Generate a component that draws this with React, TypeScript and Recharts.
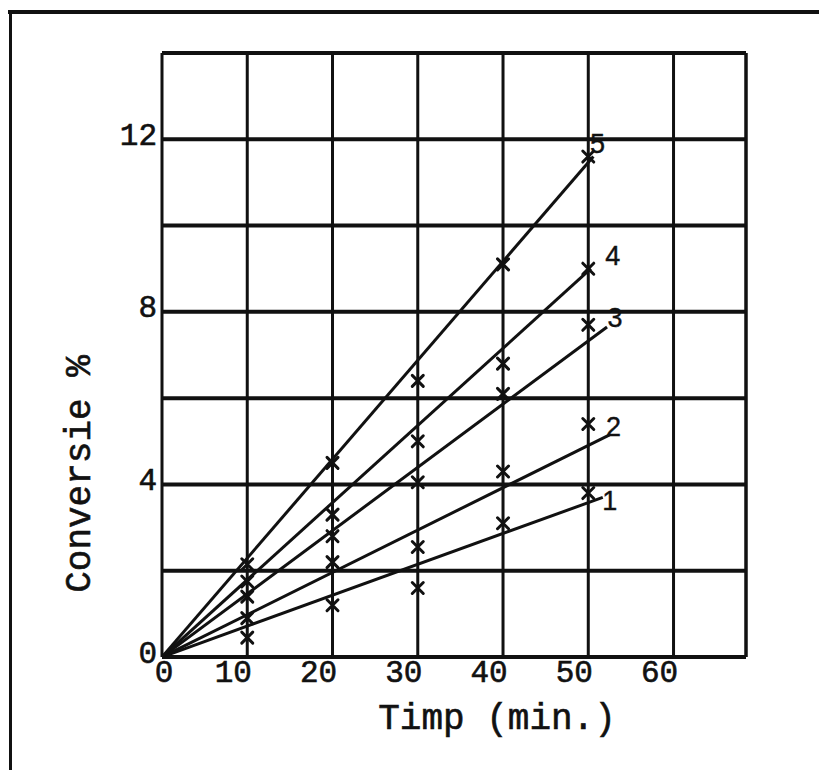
import React from 'react';
import {
  ComposedChart,
  Line,
  Scatter,
  XAxis,
  YAxis,
  CartesianGrid,
  ReferenceLine,
  Label,
} from 'recharts';

// Sampling times (min) and measured conversion (%) for curves 1–5
const sampleTimes = [10, 20, 30, 40, 50];
const conv1 = [0.45, 1.2, 1.6, 3.1, 3.8];
const conv2 = [0.9, 2.2, 2.55, 4.3, 5.4];
const conv3 = [1.4, 2.8, 4.05, 6.1, 7.7];
const conv4 = [1.75, 3.3, 5.0, 6.8, 9.0];
const conv5 = [2.15, 4.5, 6.4, 9.1, 11.6];

// Straight fitted lines start at the origin and end here
const fitEndTime = [51.7, 52.5, 52.2, 50.3, 50.6];
const fitEndConv = [3.7, 5.15, 7.65, 9.0, 11.6];
const curveNames = ['1', '2', '3', '4', '5'];

// Axes
const xTicks = [0, 10, 20, 30, 40, 50, 60];
const yTicks = [0, 2, 4, 6, 8, 10, 12, 14];
const yLabelled = [0, 4, 8, 12];
const xMax = 68.5;
const yMax = 14;

const measured = [conv1, conv2, conv3, conv4, conv5];

const FONT = '"Liberation Mono", "DejaVu Sans Mono", monospace';
const INK = '#111';
const TEXT_STROKE = 0.6;

// Where each curve number sits relative to the end of its line (px)
const nameOffsets: [number, number][] = [
  [7, 4],
  [4, -8],
  [8, -9],
  [22, -13],
  [4, -13],
];

const pointsData = measured.map((vals) =>
  sampleTimes.map((t, i) => ({ t, v: vals[i] }))
);
const fitData = fitEndTime.map((t, i) => [
  { t: 0, v: 0 },
  { t, v: fitEndConv[i] },
]);

const Cross = (props: any) => {
  const { cx, cy } = props;
  if (cx == null || cy == null) return <g />;
  const s = 5.5;
  return (
    <path
      d={`M${cx - s},${cy - s}L${cx + s},${cy + s}M${cx + s},${cy - s}L${cx - s},${cy + s}`}
      stroke={INK}
      strokeWidth={3}
      strokeLinecap="round"
      fill="none"
    />
  );
};

const XTick = (props: any) => {
  const { x, y, payload } = props;
  const dx = payload.value === 0 ? 2 : -14;
  return (
    <text
      x={x + dx}
      y={y + 25}
      textAnchor="middle"
      fontFamily={FONT}
      fontSize={31}
      fill={INK}
      stroke={INK}
      strokeWidth={TEXT_STROKE}
    >
      {payload.value}
    </text>
  );
};

const YTick = (props: any) => {
  const { x, y, payload } = props;
  if (!yLabelled.includes(payload.value)) return <g />;
  return (
    <text
      x={x - 5}
      y={y - 3}
      textAnchor="end"
      dominantBaseline="central"
      fontFamily={FONT}
      fontSize={31}
      fill={INK}
      stroke={INK}
      strokeWidth={TEXT_STROKE}
    >
      {payload.value}
    </text>
  );
};

const endLabel = (idx: number) => (props: any) => {
  const { x, y, index } = props;
  if (index !== 1 || x == null || y == null) return <g />;
  const [dx, dy] = nameOffsets[idx];
  return (
    <text
      x={x + dx}
      y={y + dy}
      textAnchor="middle"
      dominantBaseline="central"
      fontFamily='"Liberation Sans", "DejaVu Sans", sans-serif'
      fontSize={27}
      fill={INK}
      stroke={INK}
      strokeWidth={0.4}
    >
      {curveNames[idx]}
    </text>
  );
};

const XTitle = (props: any) => {
  const vb = props.viewBox || { x: 154, y: 649, width: 584, height: 40 };
  return (
    <text
      x={vb.x + 335}
      y={vb.y + 72}
      textAnchor="middle"
      fontFamily={FONT}
      fontSize={36}
      fill={INK}
      stroke={INK}
      strokeWidth={TEXT_STROKE}
    >
      Timp (min.)
    </text>
  );
};

const YTitle = (props: any) => {
  const vb = props.viewBox || { x: 74, y: 45, width: 80, height: 604 };
  const cx = vb.x - 2;
  const cy = vb.y + 421;
  return (
    <text
      x={cx}
      y={cy}
      transform={`rotate(-90 ${cx} ${cy})`}
      textAnchor="middle"
      dominantBaseline="central"
      fontFamily={FONT}
      fontSize={36}
      fill={INK}
      stroke={INK}
      strokeWidth={TEXT_STROKE}
    >
      Conversie %
    </text>
  );
};

export default function App() {
  return (
    <div
      style={{
        position: 'relative',
        width: 819,
        height: 770,
        marginBottom: -8,
        background: '#fff',
      }}
    >
      <div style={{ position: 'absolute', left: 0, top: 2, width: 819, height: 4, background: INK }} />
      <div style={{ position: 'absolute', left: 1, top: 2, width: 3, height: 766, background: INK }} />
      <div style={{ position: 'absolute', left: 0, top: 764, width: 819, height: 4, background: INK }} />
      <div style={{ position: 'absolute', left: 0, top: 0 }}>
        <ComposedChart
          width={819}
          height={770}
          margin={{ top: 45, right: 81, bottom: 81, left: 74 }}
        >
          <CartesianGrid
            horizontal={true}
            vertical={false}
            stroke={INK}
            strokeWidth={4}
          />
          <CartesianGrid
            horizontal={false}
            vertical={true}
            stroke={INK}
            strokeWidth={3}
          />
          <XAxis
            type="number"
            dataKey="t"
            domain={[0, xMax]}
            ticks={xTicks}
            allowDataOverflow
            axisLine={false}
            tickLine={false}
            tickSize={0}
            tickMargin={0}
            height={40}
            tick={<XTick />}
            interval={0}
          >
            <Label content={<XTitle />} />
          </XAxis>
          <YAxis
            type="number"
            dataKey="v"
            domain={[0, yMax]}
            ticks={yTicks}
            allowDataOverflow
            axisLine={false}
            tickLine={false}
            tickSize={0}
            tickMargin={0}
            width={80}
            tick={<YTick />}
            interval={0}
          >
            <Label content={<YTitle />} />
          </YAxis>
          <ReferenceLine x={xMax} stroke={INK} strokeWidth={3} ifOverflow="visible" />
          <ReferenceLine y={yMax} stroke={INK} strokeWidth={4} ifOverflow="visible" />
          {fitData.map((d, i) => (
            <Line
              key={`fit-${i}`}
              data={d}
              dataKey="v"
              type="linear"
              stroke={INK}
              strokeWidth={3}
              dot={false}
              activeDot={false}
              isAnimationActive={false}
              label={endLabel(i)}
            />
          ))}
          {pointsData.map((d, i) => (
            <Scatter
              key={`pts-${i}`}
              data={d}
              dataKey="v"
              shape={<Cross />}
              isAnimationActive={false}
            />
          ))}
        </ComposedChart>
      </div>
    </div>
  );
}
